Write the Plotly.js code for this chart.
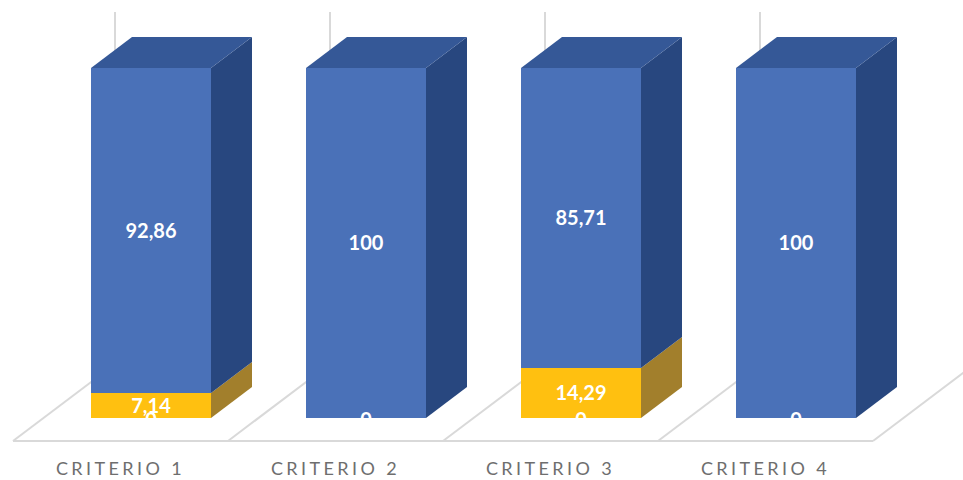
<!DOCTYPE html>
<html>
<head>
<meta charset="utf-8">
<script src="https://cdn.plot.ly/plotly-3.0.1.min.js"></script>
<style>
  html, body { margin: 0; padding: 0; background: #fff; }
  #chart { width: 963px; height: 480px; }
  .xtick text { letter-spacing: 3.4px; }
</style>
</head>
<body>
<div id="chart"></div>
<script>
// Stacked pseudo-3D columns per criterion
const categories = ["CRITERIO 1", "CRITERIO 2", "CRITERIO 3", "CRITERIO 4"];
const seriesBase = [0, 0, 0, 0];
const seriesYellow = [7.14, 0, 14.29, 0];
const seriesBlue = [92.86, 100, 85.71, 100];

const baseLabels = ["0", "0", "0", "0"];
const yellowLabels = ["7,14", "", "14,29", ""];
const blueLabels = ["92,86", "100", "85,71", "100"];

// Axis scale: one category is 215 px wide, one value unit is 3.5 px high
const catPx = 215, unitPx = 3.5, W = 963, plotH = 445;
const x0Px = 120.5, zeroPx = 418;
const xRange = [-x0Px / catPx, (W - x0Px) / catPx];
const yRange = [(zeroPx - plotH) / unitPx, zeroPx / unitPx];

// Projection of depth, column placement and floor extents in axis units
const depthX = 41 / catPx, depthY = 31 / unitPx;
const barOffset = 30.5 / catPx, barWidth = 120 / catPx;
const floorY = -23 / unitPx, floorBackDx = 102 / catPx, floorBackDy = 77 / unitPx;
const wallTop = (zeroPx - 12) / unitPx;
const labelNudge = 2 / unitPx, zeroNudge = 4 / unitPx;

const idx = categories.map((_, i) => i);
const barX = idx.map(i => i + barOffset);

const colors = {
  blue: "#4a71b8", blueSide: "#28477f", blueTop: "#355897",
  yellow: "#ffc010", yellowSide: "#a27f2c", grid: "#d9d9d9"
};

function face(xs, ys, color) {
  return { type: "scatter", mode: "lines", x: xs, y: ys, fill: "toself", fillcolor: color,
           line: { width: 0, color: color }, hoverinfo: "skip", showlegend: false };
}

// Side and top faces derived from the stacked values
const faces = [];
idx.forEach(i => {
  const right = barX[i] + barWidth / 2, left = barX[i] - barWidth / 2;
  const y1 = seriesBase[i] + seriesYellow[i];
  const y2 = y1 + seriesBlue[i];
  if (seriesYellow[i] > 0) {
    faces.push(face([right, right + depthX, right + depthX, right, right],
                    [0, depthY, y1 + depthY, y1, 0], colors.yellowSide));
  }
  faces.push(face([right, right + depthX, right + depthX, right, right],
                  [y1, y1 + depthY, y2 + depthY, y2, y1], colors.blueSide));
  faces.push(face([left, left + depthX, right + depthX, right, left],
                  [y2, y2 + depthY, y2 + depthY, y2, y2], colors.blueTop));
});

function bar(values, color) {
  return { type: "bar", x: barX, y: values, width: barWidth, marker: { color: color, line: { width: 0 } },
           hoverinfo: "skip", showlegend: false };
}

function labelTrace(ys, texts, nudge) {
  return { type: "scatter", mode: "text", x: barX, y: ys.map(v => v - nudge), text: texts,
           textposition: "middle center",
           textfont: { family: "Lato, 'Open Sans', sans-serif", size: 20, color: "#ffffff", weight: 700 },
           hoverinfo: "skip", showlegend: false, cliponaxis: false };
}

const yellowMid = idx.map(i => seriesBase[i] + seriesYellow[i] / 2);
const blueMid = idx.map(i => seriesBase[i] + seriesYellow[i] + seriesBlue[i] / 2);

const traces = [
  bar(seriesBase, colors.yellow),
  bar(seriesYellow, colors.yellow),
  bar(seriesBlue, colors.blue),
  ...faces,
  labelTrace(blueMid, blueLabels, labelNudge),
  labelTrace(yellowMid, yellowLabels, labelNudge),
  labelTrace(seriesBase, baseLabels, zeroNudge)
];

// Floor and back-wall gridlines
const gridLine = { color: colors.grid, width: 2 };
const shapes = [{ type: "line", xref: "x", yref: "y", layer: "below",
                  x0: -0.5, x1: categories.length - 0.5, y0: floorY, y1: floorY, line: gridLine }];
for (let k = 0; k <= categories.length; k++) {
  const xf = k - 0.5;
  shapes.push({ type: "line", xref: "x", yref: "y", layer: "below", x0: xf, x1: xf + floorBackDx,
                y0: floorY, y1: floorY + floorBackDy, line: gridLine });
  shapes.push({ type: "line", xref: "x", yref: "y", layer: "below", x0: xf + floorBackDx, x1: xf + floorBackDx,
                y0: floorY + floorBackDy, y1: wallTop, line: gridLine });
}

const layout = {
  width: W, height: 480,
  margin: { l: 0, r: 0, t: 0, b: 480 - plotH, pad: 0 },
  paper_bgcolor: "#ffffff", plot_bgcolor: "#ffffff",
  barmode: "stack", showlegend: false,
  xaxis: { type: "linear", range: xRange, tickmode: "array", tickvals: idx, ticktext: categories,
           showgrid: false, zeroline: false, showline: false, ticks: "", ticklabelstandoff: 11,
           tickfont: { family: "Lato, 'Open Sans', sans-serif", size: 18, color: "#6e6e6e" } },
  yaxis: { range: yRange, visible: false, showgrid: false, zeroline: false },
  shapes: shapes
};

Plotly.newPlot("chart", traces, layout, { displayModeBar: false, staticPlot: true });
</script>
</body>
</html>
